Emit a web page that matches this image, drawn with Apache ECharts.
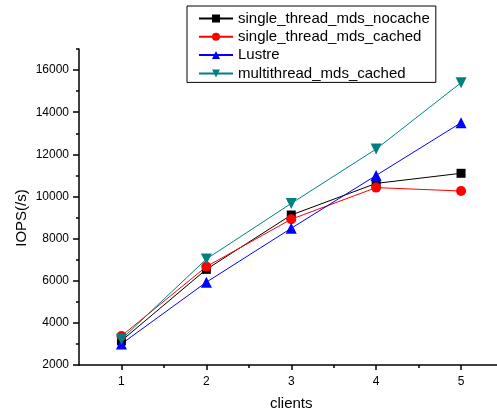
<!DOCTYPE html>
<html>
<head>
<meta charset="utf-8">
<script src="https://cdn.jsdelivr.net/npm/echarts@6/dist/echarts.min.js"></script>
<style>html,body{margin:0;padding:0;background:#fff}#c{width:497px;height:412px}</style>
</head>
<body>
<div id="c"></div>
<script>
const clients = [1, 2, 3, 4, 5];
const nocache = [3150, 6540, 9120, 10620, 11100];
const cached = [3380, 6670, 8920, 10420, 10260];
const lustre = [3000, 5930, 8490, 11000, 13500];
const multi = [3220, 7030, 9670, 12250, 15400];
const yMajor = [2000, 4000, 6000, 8000, 10000, 12000, 14000, 16000];
const yMinor = [3000, 5000, 7000, 9000, 11000, 13000, 15000, 17000];
const xMinor = [1.5, 2.5, 3.5, 4.5];

const FONT = 'Liberation Sans';
const chart = echarts.init(document.getElementById('c'), null, {renderer: 'canvas'});
const pair = arr => clients.map((c, i) => [c, arr[i]]);
function mk(name, data, color, symbol, size) {
  return {
    name, type: 'line', data: pair(data), symbol, symbolSize: size,
    lineStyle: {color, width: 1}, itemStyle: {color},
    animation: false
  };
}
const lineAx = {show: true, lineStyle: {color: '#000', width: 1.5}};
chart.setOption({
  animation: false,
  textStyle: {fontFamily: FONT},
  grid: {left: 79, right: -6.5, top: 49, bottom: 47, containLabel: false, outerBoundsMode: 'none'},
  legend: {
    orient: 'vertical', left: 187, top: 6,
    borderColor: '#000', borderWidth: 1,
    padding: [5, 6, 1.5, 11],
    itemWidth: 34, itemHeight: 10, itemGap: 3.3,
    textStyle: {fontFamily: FONT, fontSize: 15, color: '#000'},
    data: ['single_thread_mds_nocache', 'single_thread_mds_cached', 'Lustre', 'multithread_mds_cached']
  },
  xAxis: [{
    type: 'value', min: 0.5, max: 5.5, position: 'bottom',
    name: 'clients', nameLocation: 'middle', nameGap: 31, nameMoveOverlap: false,
    nameTextStyle: {fontFamily: FONT, fontSize: 15, color: '#000'},
    axisLine: lineAx,
    axisTick: {show: true, inside: false, length: 5, customValues: clients, lineStyle: {color: '#000', width: 1.5}},
    axisLabel: {customValues: clients, fontFamily: FONT, fontSize: 12, color: '#000', margin: 11},
    splitLine: {show: false}
  }, {
    type: 'value', min: 0.5, max: 5.5, position: 'bottom',
    axisLine: {show: false},
    axisTick: {show: true, length: 3, customValues: xMinor, lineStyle: {color: '#000', width: 1.5}},
    axisLabel: {show: false}, splitLine: {show: false}
  }],
  yAxis: [{
    type: 'value', min: 2000, max: 17000, position: 'left',
    name: 'IOPS(/s)', nameLocation: 'middle', nameGap: 50, nameMoveOverlap: false,
    nameTextStyle: {fontFamily: FONT, fontSize: 15, color: '#000', padding: [0, 22, 0, 0]},
    axisLine: lineAx,
    axisTick: {show: true, inside: false, length: 6, customValues: yMajor, lineStyle: {color: '#000', width: 1.5}},
    axisLabel: {customValues: yMajor, formatter: v => String(v), fontFamily: FONT, fontSize: 12, color: '#000', margin: 10},
    splitLine: {show: false}
  }, {
    type: 'value', min: 2000, max: 17000, position: 'left',
    axisLine: {show: false},
    axisTick: {show: true, length: 3, customValues: yMinor, lineStyle: {color: '#000', width: 1.5}},
    axisLabel: {show: false}, splitLine: {show: false}
  }],
  series: [
    mk('single_thread_mds_nocache', nocache, '#000000', 'rect', 9),
    mk('single_thread_mds_cached', cached, '#ff0000', 'circle', 10),
    mk('Lustre', lustre, '#0000ff', 'triangle', 11),
    Object.assign(mk('multithread_mds_cached', multi, '#008080', 'triangle', 11), {symbolRotate: 180})
  ]
});
</script>
</body>
</html>
